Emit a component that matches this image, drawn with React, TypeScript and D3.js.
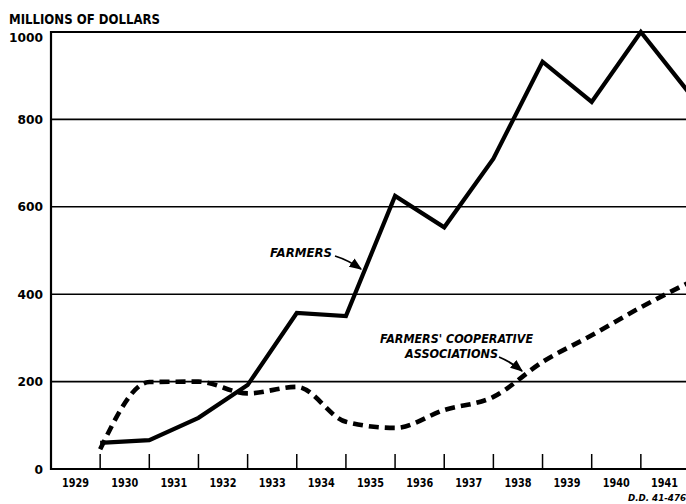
import React from "react";
import * as d3 from "d3";

const years = [1929, 1930, 1931, 1932, 1933, 1934, 1935, 1936, 1937, 1938, 1939, 1940, 1941];
const farmers = [60, 66, 117, 192, 357, 350, 625, 553, 710, 932, 840, 1000, 858];
const coop = [45, 199, 200, 173, 188, 108, 94, 135, 165, 245, 306, 370, 428];
const yTicks = [0, 200, 400, 600, 800, 1000];

const W = 686;
const H = 504;
const FONT = "'DejaVu Sans', 'Liberation Sans', Arial, sans-serif";

export default function App() {
  const x = d3.scaleLinear().domain([1929, 1942]).range([51, 690]);
  const y = d3.scaleLinear().domain([0, 1000]).range([469, 32]);

  const lineLinear = d3
    .line<number>()
    .x((_, i) => x(years[i] + 1))
    .y((d) => y(d));
  const lineSmooth = d3
    .line<number>()
    .x((_, i) => x(years[i] + 1))
    .y((d) => y(d))
    .curve(d3.curveMonotoneX);

  const boundaries = years.slice(1);

  return (
    <svg
      width={W}
      height={H}
      style={{ position: "absolute", left: 0, top: 0, background: "#fff" }}
      fontFamily={FONT}
    >
      <defs>
        <marker id="arr" viewBox="0 0 10 10" refX="9" refY="5" markerWidth="7" markerHeight="7" orient="auto-start-reverse">
          <path d="M0,1 L10,5 L0,9 z" fill="#000" />
        </marker>
      </defs>

      {/* gridlines */}
      {yTicks.map((t) => (
        <line
          key={t}
          x1={x(1929)}
          x2={W}
          y1={y(t)}
          y2={y(t)}
          stroke="#000"
          strokeWidth={t === 0 || t === 1000 ? 2.2 : 1.6}
        />
      ))}
      {/* y axis */}
      <line x1={x(1929)} x2={x(1929)} y1={y(1000) - 1} y2={y(0) + 1} stroke="#000" strokeWidth={2.2} />

      {/* y tick labels */}
      {yTicks.map((t) => {
        const s = String(t);
        return (
          <text
            key={t}
            x={43}
            y={y(t) + (t === 1000 ? 5 : 0)}
            dy="0.36em"
            textAnchor="end"
            fontSize={13}
            fontWeight="bold"
            textLength={s.length * 8.5}
            lengthAdjust="spacingAndGlyphs"
          >
            {s}
          </text>
        );
      })}

      {/* x ticks */}
      {boundaries.map((b) => (
        <line key={b} x1={x(b)} x2={x(b)} y1={y(0)} y2={y(0) - 15} stroke="#000" strokeWidth={1.5} />
      ))}
      {years.map((yr) => (
        <text
          key={yr}
          x={Math.min(x(yr + 0.5) - 13.5, 651)}
          y={487}
          fontSize={12}
          fontWeight="bold"
          textLength={27}
          lengthAdjust="spacingAndGlyphs"
        >
          {yr}
        </text>
      ))}

      {/* series */}
      <path d={lineLinear(farmers) || ""} fill="none" stroke="#000" strokeWidth={4.2} strokeLinejoin="miter" />
      <path
        d={lineSmooth(coop) || ""}
        fill="none"
        stroke="#000"
        strokeWidth={4.6}
        strokeDasharray="10 6"
        strokeLinecap="butt"
      />

      {/* title */}
      <text x={9} y={24} fontSize={13.5} fontWeight="bold" textLength={151} lengthAdjust="spacingAndGlyphs">
        MILLIONS OF DOLLARS
      </text>

      {/* annotations */}
      <text x={270} y={257} fontSize={12.5} fontWeight="bold" fontStyle="italic" textLength={62} lengthAdjust="spacingAndGlyphs">
        FARMERS
      </text>
      <path d="M335,256 Q348,260 361,269" fill="none" stroke="#000" strokeWidth={1.8} markerEnd="url(#arr)" />

      <text x={380} y={343} fontSize={12.5} fontWeight="bold" fontStyle="italic" textLength={153} lengthAdjust="spacingAndGlyphs">
        FARMERS' COOPERATIVE
      </text>
      <text x={405} y={358} fontSize={12.5} fontWeight="bold" fontStyle="italic" textLength={93} lengthAdjust="spacingAndGlyphs">
        ASSOCIATIONS
      </text>
      <path d="M499,357 Q511,362 522,371" fill="none" stroke="#000" strokeWidth={1.8} markerEnd="url(#arr)" />

      <text x={628} y={501} fontSize={8} fontWeight="bold" fontStyle="italic" textLength={58} lengthAdjust="spacingAndGlyphs">
        D.D. 41-476
      </text>
    </svg>
  );
}
